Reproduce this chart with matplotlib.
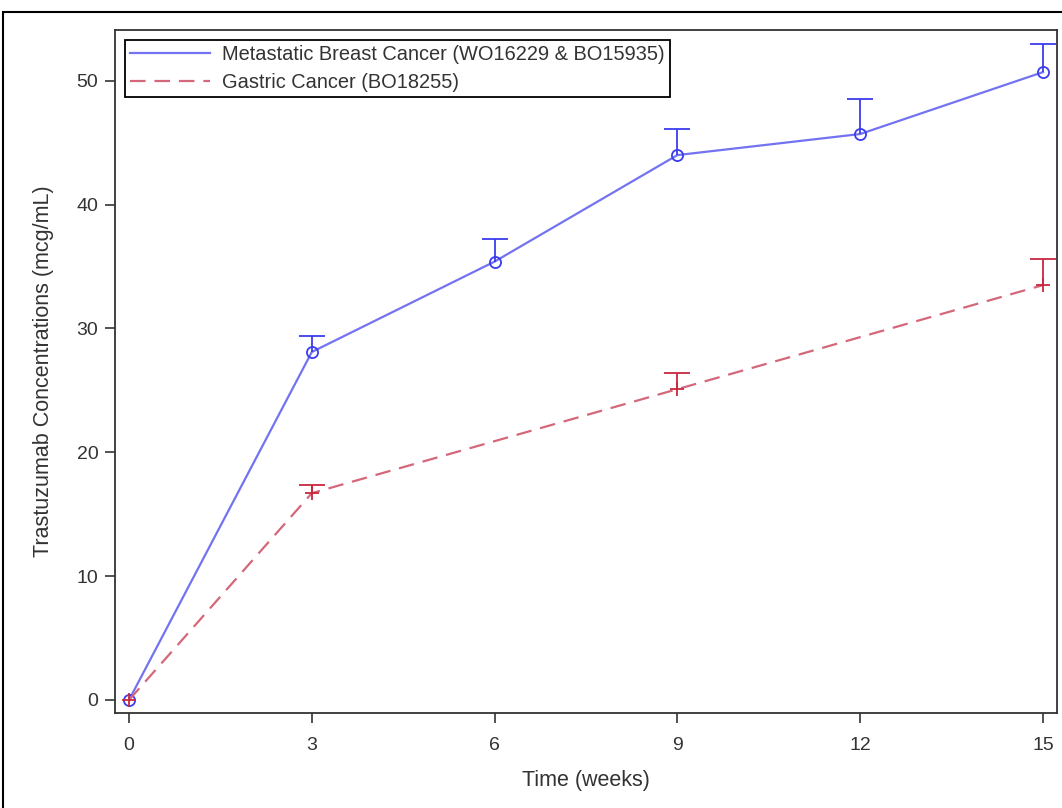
import matplotlib

matplotlib.use("Agg")
import matplotlib.pyplot as plt
from matplotlib.patches import Rectangle

plt.rcParams.update({"font.family": ["Liberation Sans", "DejaVu Sans"], "font.size": 11,
                     "text.color": "#333333"})

weeks_mbc = [0, 3, 6, 9, 12, 15]
conc_mbc = [0, 28.1, 35.4, 44.0, 45.7, 50.7]
upper_mbc = [0, 29.4, 37.2, 46.1, 48.5, 53.0]

weeks_gc = [0, 3, 9, 15]
conc_gc = [0, 16.7, 25.1, 33.5]
upper_gc = [0, 17.4, 26.4, 35.6]

fig = plt.figure(figsize=(10.62, 8.08), dpi=100)
ax = fig.add_axes([115 / 1062, 1 - 713 / 808, 942 / 1062, 683 / 808])

# outer frame (cut off at right and bottom like the source)
fig.patches.append(Rectangle((3 / 1062, -0.05), 1.1, 1 - 12 / 808 + 0.05,
                             transform=fig.transFigure, fill=False,
                             edgecolor="black", linewidth=1.5))

blue_line, blue_mk = "#7373f2", "#3b3bf0"
red_line, red_mk = "#d4687a", "#c8283e"

ax.plot(weeks_mbc, conc_mbc, color=blue_line, lw=1.6,
        label="Metastatic Breast Cancer (WO16229 & BO15935)")
ax.plot(weeks_mbc, conc_mbc, "o", ms=8, mfc="none", mec=blue_mk, mew=1.3)
# upper-only error bars
ax.vlines(weeks_mbc[1:], conc_mbc[1:], upper_mbc[1:], color=blue_mk, lw=1.3)
ax.plot(weeks_mbc[1:], upper_mbc[1:], "_", ms=19, mew=1.3, color=blue_mk)

ax.plot(weeks_gc, conc_gc, color=red_line, lw=1.6, dashes=(7, 4),
        label="Gastric Cancer (BO18255)")
ax.plot(weeks_gc, conc_gc, "+", ms=10, mec=red_mk, mew=1.3)
ax.vlines(weeks_gc[1:], conc_gc[1:], upper_gc[1:], color=red_mk, lw=1.3)
ax.plot(weeks_gc[1:], upper_gc[1:], "_", ms=19, mew=1.3, color=red_mk)

ax.set_xlim(-0.23, 15.23)
ax.set_ylim(-1.05, 54.1)
ax.set_xticks([0, 3, 6, 9, 12, 15])
ax.set_yticks([0, 10, 20, 30, 40, 50])
ax.tick_params(direction="out", length=7, width=1.2, colors="#333333", labelsize=14,
               labelcolor="#333333")
ax.tick_params(axis="x", pad=10)
ax.tick_params(axis="y", pad=5)
for s in ax.spines.values():
    s.set_color("#333333")
    s.set_linewidth(1.3)
ax.set_xlabel("Time (weeks)", fontsize=15.5, labelpad=12, color="#333333")
ax.set_ylabel("Trastuzumab Concentrations (mcg/mL)", fontsize=15.5, labelpad=16,
              color="#333333")

leg = ax.legend(loc="upper left", fontsize=14.4, fancybox=False, framealpha=1,
                edgecolor="black", borderaxespad=0.5, handlelength=4.0,
                borderpad=0.25, labelspacing=0.45, handletextpad=0.6)
leg.get_frame().set_linewidth(1.3)

fig.savefig("out.png", dpi=100)
